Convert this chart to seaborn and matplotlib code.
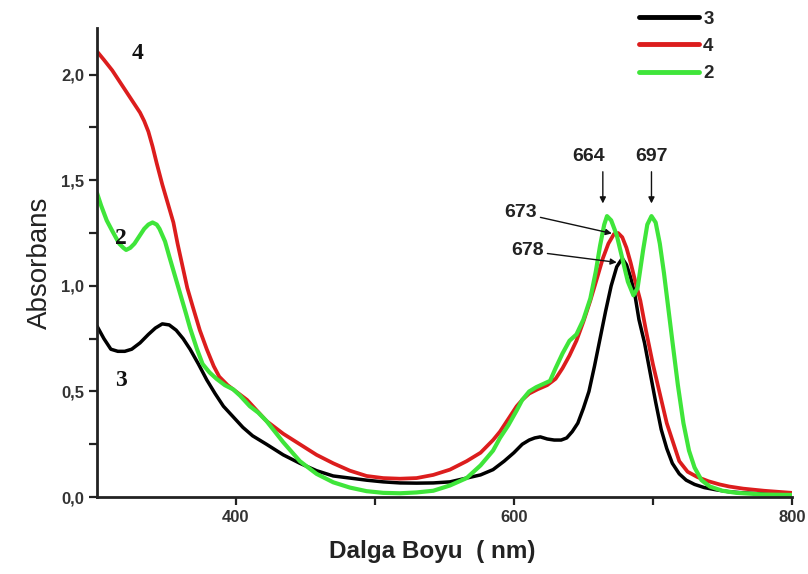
import numpy as np
import seaborn as sns
import matplotlib.pyplot as plt
import pandas as pd

# Spektrum verileri
dalga_3 = [300, 305, 310, 315, 320, 325, 331, 337, 342, 347, 352, 357, 362, 367, 373, 379, 385,
           391, 398, 405, 412, 422, 434, 446, 458, 470, 482, 494, 506, 518, 530, 542, 554, 566,
           576, 585, 593, 600, 606, 611, 615, 619, 624, 629, 634, 638, 642, 646, 650, 654, 658,
           662, 666, 670, 674, 678, 681, 684, 687, 690, 694, 698, 702, 706, 710, 714, 719, 724,
           730, 737, 745, 755, 765, 780, 800]
abs_3 = [0.81, 0.75, 0.70, 0.69, 0.69, 0.70, 0.73, 0.77, 0.80, 0.82, 0.815, 0.79, 0.75, 0.70, 0.63,
         0.555, 0.49, 0.43, 0.38, 0.33, 0.29, 0.25, 0.20, 0.16, 0.125, 0.10, 0.09, 0.08, 0.072,
         0.067, 0.066, 0.067, 0.072, 0.09, 0.105, 0.13, 0.17, 0.21, 0.25, 0.27, 0.28, 0.285, 0.275,
         0.27, 0.27, 0.28, 0.31, 0.35, 0.42, 0.50, 0.62, 0.75, 0.88, 1.00, 1.09, 1.13, 1.10, 1.04,
         0.96, 0.84, 0.73, 0.59, 0.45, 0.32, 0.23, 0.16, 0.11, 0.08, 0.06, 0.045, 0.035, 0.025,
         0.02, 0.015, 0.012]

dalga_4 = [300, 305, 311, 318, 323, 327, 331, 334, 337, 340, 343, 347, 351, 355, 358, 362, 365,
           369, 374, 379, 384, 388, 394, 400, 408, 415, 422, 434, 446, 458, 470, 482, 494, 506,
           518, 530, 542, 554, 566, 576, 585, 590, 596, 602, 606, 611, 617, 624, 630, 635, 640,
           645, 650, 655, 660, 664, 668, 672, 675, 678, 681, 684, 687, 691, 695, 700, 705, 710,
           715, 719, 725, 732, 740, 748, 755, 765, 780, 800]
abs_4 = [2.11, 2.07, 2.02, 1.95, 1.90, 1.86, 1.82, 1.78, 1.73, 1.66, 1.58, 1.48, 1.39, 1.30, 1.20,
         1.08, 0.99, 0.90, 0.79, 0.70, 0.62, 0.57, 0.53, 0.50, 0.46, 0.41, 0.36, 0.30, 0.25, 0.20,
         0.16, 0.125, 0.10, 0.09, 0.087, 0.09, 0.105, 0.13, 0.17, 0.21, 0.27, 0.31, 0.37, 0.43,
         0.46, 0.49, 0.51, 0.53, 0.56, 0.61, 0.67, 0.74, 0.83, 0.93, 1.04, 1.13, 1.20, 1.245,
         1.25, 1.23, 1.18, 1.11, 1.03, 0.93, 0.79, 0.63, 0.49, 0.35, 0.25, 0.17, 0.12, 0.095,
         0.075, 0.06, 0.05, 0.04, 0.03, 0.02]

dalga_2 = [300, 303, 307, 311, 316, 319, 321, 324, 327, 331, 334, 337, 340, 343, 345, 347, 349,
           352, 356, 360, 364, 367, 372, 376, 381, 386, 392, 398, 403, 410, 416, 422, 434, 446,
           458, 470, 482, 494, 506, 518, 530, 542, 554, 566, 576, 585, 590, 596, 602, 606, 611,
           616, 621, 626, 630, 635, 640, 645, 650, 655, 659, 662, 665, 667, 670, 674, 678, 682,
           686, 689, 693, 696, 699, 702, 705, 708, 711, 714, 718, 722, 726, 730, 735, 741, 750,
           760, 780, 800]
abs_2 = [1.44, 1.38, 1.31, 1.26, 1.20, 1.18, 1.17, 1.18, 1.20, 1.24, 1.27, 1.29, 1.30, 1.29, 1.27,
         1.24, 1.21, 1.14, 1.05, 0.96, 0.87, 0.80, 0.70, 0.63, 0.59, 0.56, 0.53, 0.51, 0.48, 0.43,
         0.40, 0.36, 0.26, 0.17, 0.11, 0.07, 0.045, 0.028, 0.02, 0.018, 0.022, 0.03, 0.055, 0.09,
         0.15, 0.22, 0.28, 0.34, 0.41, 0.46, 0.50, 0.52, 0.535, 0.55, 0.61, 0.68, 0.74, 0.77,
         0.84, 0.94, 1.07, 1.19, 1.29, 1.33, 1.31, 1.24, 1.13, 1.02, 0.955, 0.99, 1.17, 1.29,
         1.33, 1.30, 1.20, 1.06, 0.90, 0.74, 0.53, 0.35, 0.22, 0.14, 0.08, 0.05, 0.03, 0.02,
         0.012, 0.01]

seri_adlari = ['3', '4', '2']
renkler = ['#000000', '#dc1d1d', '#3fe53a']
y_ticks = [0.0, 0.5, 1.0, 1.5, 2.0]
y_tick_etiket = ['0,0', '0,5', '1,0', '1,5', '2,0']
x_ticks = [400, 600, 800]

df = pd.concat([
    pd.DataFrame({'Dalga': dalga_3, 'Abs': abs_3, 'Seri': '3'}),
    pd.DataFrame({'Dalga': dalga_4, 'Abs': abs_4, 'Seri': '4'}),
    pd.DataFrame({'Dalga': dalga_2, 'Abs': abs_2, 'Seri': '2'}),
])

sns.set_theme(style="white")
plt.rcParams['font.family'] = ['Liberation Sans', 'DejaVu Sans']

fig = plt.figure(figsize=(8.08, 5.74), dpi=100)
ax = fig.add_axes([0.12, 0.134, 0.86, 0.817])

genislik = {'3': 2.5, '4': 2.7, '2': 3.0}
for ad, renk in zip(seri_adlari, renkler):
    sns.lineplot(data=df[df['Seri'] == ad], x='Dalga', y='Abs', color=renk,
                 lw=genislik[ad], label=ad, ax=ax, sort=False)

ax.set_xlim(300, 800)
ax.set_ylim(0, 2.22)
ax.set_xticks(x_ticks)
ax.set_xticks([500, 700], minor=True)
ax.set_yticks(y_ticks)
ax.set_yticklabels(y_tick_etiket)
ax.set_yticks([0.25, 0.75, 1.25, 1.75], minor=True)
ax.tick_params(which='both', direction='out', length=6, width=1.6, color='#222222',
               labelsize=12, pad=3, bottom=True, left=True)
for lbl in ax.get_xticklabels() + ax.get_yticklabels():
    lbl.set_fontweight('bold')
    lbl.set_color('#333333')

sns.despine(ax=ax)
for s in ['left', 'bottom']:
    ax.spines[s].set_linewidth(2.0)
    ax.spines[s].set_color('#222222')

ax.set_xlabel('Dalga Boyu  ( nm)', fontsize=17.5, fontweight='bold', color='#222222')
ax.xaxis.set_label_coords(0.483, -0.092)
ax.set_ylabel('Absorbans', fontsize=20, color='#222222', labelpad=6)

# Legend sag ustte
ax.get_legend().remove()
h, l = ax.get_legend_handles_labels()
leg = fig.legend(h, l, loc='upper left', bbox_to_anchor=(630 / 808, 1 - 1 / 574), frameon=False,
                 handlelength=3.2, handletextpad=0.2, labelspacing=0.55, borderpad=0,
                 prop={'weight': 'bold', 'size': 13.5})
for line in leg.get_lines():
    line.set_linewidth(3.5)

# Pik etiketleri
etiket_stil = dict(fontsize=14, fontweight='bold', color='#222222')
ax.text(654, 1.61, '664', ha='center', va='center', **etiket_stil)
ax.text(699, 1.61, '697', ha='center', va='center', **etiket_stil)
ok = dict(arrowstyle='-|>', color='#111111', lw=1.0, mutation_scale=9, shrinkA=0, shrinkB=0)
ax.annotate('', xy=(664, 1.39), xytext=(664, 1.54), arrowprops=ok)
ax.annotate('', xy=(699, 1.39), xytext=(699, 1.54), arrowprops=ok)
ax.annotate('673', xy=(670.5, 1.248), xytext=(605, 1.345), ha='center', va='center',
            arrowprops=ok, **etiket_stil)
ax.annotate('678', xy=(674, 1.111), xytext=(610, 1.165), ha='center', va='center',
            arrowprops=ok, **etiket_stil)

# Egri numaralari
for x, y, t in [(329.5, 2.10, '4'), (317, 1.225, '2'), (317, 0.553, '3')]:
    ax.text(x, y, t, ha='center', va='center', fontsize=17, fontweight='bold',
            family=['Liberation Serif', 'DejaVu Serif'], color='#111111')

fig.savefig('out.png', dpi=100)
